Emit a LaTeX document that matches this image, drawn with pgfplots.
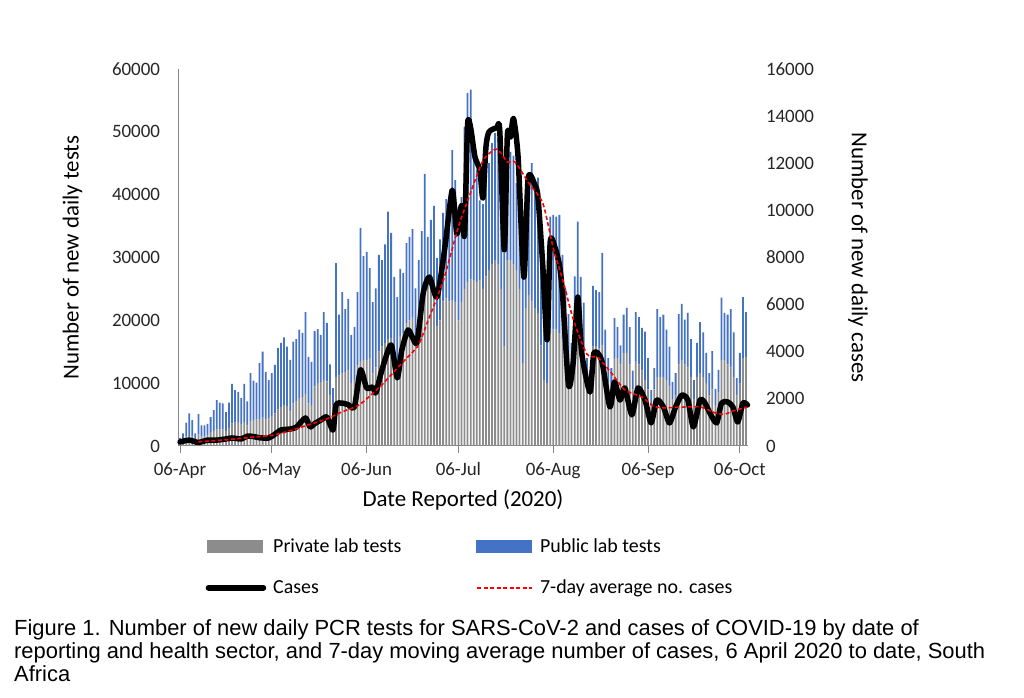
\documentclass[border=0pt]{standalone}
\usepackage{pgfplots}
\pgfplotsset{compat=1.18}
\usepackage{pgfplotstable}
\usepackage{fontspec}
\setmainfont{Carlito}
\newfontfamily\arial{Liberation Sans}
\definecolor{privgray}{RGB}{140,140,140}
\definecolor{pubblue}{RGB}{68,114,196}
\definecolor{axgray}{RGB}{134,134,134}

\pgfplotstableread{
d priv pub
0 700 600
1 1000 1000
2 1500 2200
3 1400 3800
4 1600 2500
5 1000 1000
6 1800 3300
7 1500 1800
8 1500 1800
9 1700 1800
10 2200 2400
11 2400 3300
12 2600 4700
13 2700 4200
14 2600 4200
15 2400 3000
16 2900 4000
17 3600 6300
18 3700 5200
19 3800 4800
20 3500 4100
21 3800 6100
22 3300 3800
23 4000 7600
24 4100 6300
25 4200 5900
26 4300 8900
27 4500 10500
28 4200 7600
29 4400 6100
30 4800 6800
31 5200 7700
32 5800 9800
33 6200 10200
34 6500 10800
35 6400 9400
36 5500 8200
37 6800 9800
38 7200 9800
39 7600 10900
40 7800 10200
41 8300 13000
42 6800 7400
43 6500 6900
44 9500 8800
45 10000 8600
46 10200 7500
47 10500 10800
48 10300 9300
49 8000 5000
50 6500 2700
51 11000 18100
52 11200 9700
53 11500 13000
54 11800 10000
55 12000 11400
56 10000 7700
57 10500 8400
58 12800 11700
59 13500 21200
60 13700 16500
61 13700 17200
62 14000 14300
63 11500 11400
64 12500 12600
65 15000 15400
66 15800 13800
67 16400 15700
68 17000 20300
69 17200 16700
70 14000 12900
71 13000 10700
72 17500 10700
73 18000 9500
74 19600 12700
75 20000 13300
76 20500 14000
77 16000 9100
78 17500 12100
79 22000 12200
80 24000 19300
81 25000 8300
82 25900 10100
83 25500 12700
84 19000 10900
85 20000 12900
86 23000 14100
87 23500 15800
88 23000 14400
89 23200 23900
90 22800 19500
91 20000 18100
92 22800 16800
93 25000 25800
94 26000 30200
95 26500 30200
96 26400 21600
97 26000 18000
98 26400 12700
99 25000 13500
100 27000 16500
101 28000 17000
102 29000 19200
103 29600 20200
104 29000 20000
105 25000 20000
106 15800 14900
107 29600 19400
108 29600 17200
109 29000 17200
110 28000 13900
111 25000 15300
112 13200 14300
113 22000 18300
114 24000 18800
115 23000 22000
116 22000 19900
117 21200 21500
118 16000 15700
119 10500 10000
120 10000 6900
121 18000 18500
122 18500 18300
123 18500 18000
124 18000 18800
125 17000 13400
126 14000 11000
127 12000 9000
128 10000 6400
129 16000 11000
130 17000 18700
131 16500 10400
132 15000 7800
133 10000 4000
134 9000 3000
135 15800 9700
136 15800 9000
137 15500 9000
138 16000 14700
139 13000 5500
140 10000 4000
141 9000 3400
142 14000 6400
143 14000 4900
144 13000 3000
145 14800 6100
146 14800 7200
147 13000 5900
148 9000 3000
149 13500 7800
150 13000 7500
151 12000 6800
152 10500 7700
153 9000 5000
154 6500 2400
155 9000 3400
156 11000 10800
157 11000 9500
158 11000 9900
159 10500 8000
160 9500 6300
161 7500 2700
162 8000 3600
163 13000 8000
164 13700 8900
165 13000 7100
166 12500 8700
167 11000 6000
168 7500 3000
169 11000 5400
170 11600 8100
171 11000 7100
172 10000 4800
173 8000 3600
174 9000 6100
175 6500 2600
176 8500 3600
177 13700 9900
178 13700 7500
179 13000 7900
180 12500 9300
181 11000 7100
182 8000 2800
183 10000 4800
184 14000 9700
185 14200 7100
}\tests

\pgfplotstableread{
d cases
0 170
3 250
6 150
9 250
12 250
15 300
17 340
20 300
22 420
24 400
26 350
29 340
31 500
33 680
36 720
38 800
41 1190
42.5 810
44 950
46 1100
48 1230
50 680
51 1740
53 1820
55 1750
57 1660
59 3230
61 2460
63 2500
64 2250
66 3230
69 4290
71 2890
72.5 4070
74.5 4920
76 4600
77.5 4410
79.5 6490
81.5 7170
84 6320
86.6 8450
89 10860
90.5 9000
92 10200
93 8950
94 13650
95 13500
96.4 12270
98 11710
99 10520
100 12690
101 13330
103.5 13500
104.5 13410
106 8320
107 13200
108 13110
109 13900
110.5 12270
112.4 7170
113.8 11370
116 11080
117 10570
118.6 7600
120 4500
121 8660
122.5 8450
124 7700
125 6500
127 2590
128.5 3520
130 6320
131.3 3950
134 2290
135.3 3950
137.8 3650
140.5 1660
142 2720
143.8 1950
145.4 2460
147.7 1320
149.7 2460
152 1950
154 980
155.8 1950
158 1660
160 980
162 1660
164 2160
166 1950
167.8 810
170 1950
171.6 1820
173.2 1400
175.4 980
177 1820
179 1870
180.7 1660
182.3 1020
184 1820
185.5 1740
}\cases

\pgfplotstableread{
d avg
6 180
12 230
18 300
24 380
30 450
36 650
42 900
48 1150
53 1450
58 1700
61 2000
66 2600
71 3300
75 3850
78 4300
81 5300
86 7000
91 9300
94 10400
99 12100
103.5 12600
107 12050
109.5 12050
114 11160
118.6 10300
122 8400
125 7100
128.5 5400
133 3900
136.6 3750
141 3100
145.4 2380
151 2080
154.6 1700
158 1620
164 1650
170 1660
175 1400
178 1350
181 1500
185.5 1650
}\avg

\begin{document}
\begin{tikzpicture}[x=1bp,y=1bp]
\useasboundingbox (0,0) rectangle (1024,698);
\begin{axis}[
  at={(178.5bp,252bp)}, anchor=south west,
  scale only axis, width=569bp, height=377bp,
  xmin=-0.5, xmax=185.5, ymin=0, ymax=60000,
  axis x line*=bottom, axis y line*=left,
  axis line style={axgray, line width=1bp},
  ybar stacked, bar width=0.58,
  xtick={0,30,61,91,122,153,183},
  xticklabels={06-Apr,06-May,06-Jun,06-Jul,06-Aug,06-Sep,06-Oct},
  ytick={0,10000,...,60000},
  tick align=outside,
  xtick style={axgray, line width=1bp},
  major tick length=7bp,
  ytick style={draw=none},
  /pgf/number format/assume math mode=true,
  /pgf/number format/1000 sep={},
  scaled y ticks=false,
  tick label style={font=\fontsize{19}{19}\selectfont, text=black!85},
  yticklabel style={xshift=-8bp},
  xticklabel style={yshift=-6bp},
  xlabel={Date Reported (2020)},
  every axis x label/.style={at={(axis description cs:0.5,-0.143)}, anchor=center, font=\fontsize{23}{23}\selectfont},
  ylabel={Number of new daily tests},
  every axis y label/.style={at={(axis description cs:-0.1863,0.5)}, rotate=90, anchor=center, font=\fontsize{23}{23}\selectfont},
  clip=false,
]
\addplot[fill=privgray, draw=none] table[x=d,y=priv] {\tests};
\addplot[fill=pubblue, draw=none] table[x=d,y=pub] {\tests};
\end{axis}
\begin{axis}[
  at={(178.5bp,252bp)}, anchor=south west,
  scale only axis, width=569bp, height=377bp,
  xmin=-0.5, xmax=185.5, ymin=0, ymax=16000,
  axis x line=none, axis y line*=right,
  y axis line style={draw=none},
  ytick={0,2000,...,16000},
  ytick style={draw=none},
  /pgf/number format/assume math mode=true,
  /pgf/number format/1000 sep={},
  scaled y ticks=false,
  tick label style={font=\fontsize{19}{19}\selectfont, text=black!85},
  yticklabel style={xshift=15bp},
  ylabel={Number of new daily cases},
  every axis y label/.style={at={(axis description cs:1.194,0.5)}, rotate=-90, anchor=center, font=\fontsize{23}{23}\selectfont},
  legend columns=2,
  legend style={at={(axis description cs:0.0405,-0.235)}, anchor=north west, draw=none, fill=none,
    font=\fontsize{20}{20}\selectfont, row sep=22bp,
    /tikz/column 2/.style={column sep=72bp}},
  legend cell align=left,
  legend image code/.code={\path (0bp,0bp) (61bp,0bp); \draw[#1] (1bp,0bp) -- (56bp,0bp);},
  clip=false,
]
\addlegendimage{legend image code/.code={\path (0bp,0bp) (61bp,0bp); \fill[privgray] (0bp,-6bp) rectangle (55bp,6bp);}}
\addlegendentry{Private lab tests}
\addlegendimage{legend image code/.code={\path (0bp,0bp) (61bp,0bp); \fill[pubblue] (0bp,-6bp) rectangle (55bp,6bp);}}
\addlegendentry{Public lab tests}
\addplot[black, line width=5.5bp, line cap=round, line join=round, smooth, tension=0.4] table[x=d,y=cases] {\cases};
\addlegendentry{Cases}
\addplot[red, line width=1.6bp, dash pattern=on 4bp off 2.5bp, smooth, tension=0.4] table[x=d,y=avg] {\avg};
\addlegendentry{7-day average no. cases}
\end{axis}
\node[anchor=base west, font=\arial\fontsize{22}{23}\selectfont, inner sep=0] at (14,62) {Figure 1. Number of new daily PCR tests for SARS-CoV-2 and cases of COVID-19 by date of};
\node[anchor=base west, font=\arial\fontsize{22}{23}\selectfont, inner sep=0] at (14,39) {reporting and health sector, and 7-day moving average number of cases, 6 April 2020 to date, South};
\node[anchor=base west, font=\arial\fontsize{22}{23}\selectfont, inner sep=0] at (14,16) {Africa};
\end{tikzpicture}
\end{document}
